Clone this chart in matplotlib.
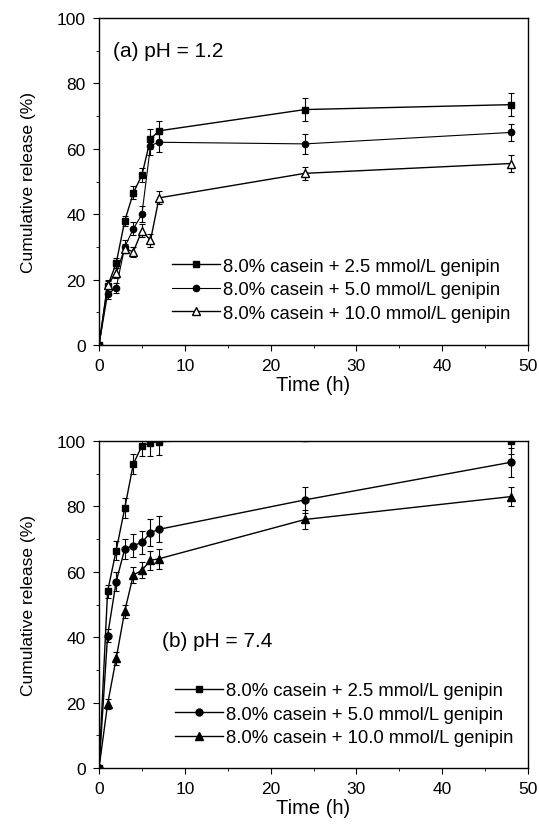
import matplotlib
matplotlib.use("Agg")
from matplotlib import pyplot as plt
from matplotlib.lines import Line2D
from matplotlib.ticker import MultipleLocator

plt.rcParams['font.family'] = ['Liberation Sans', 'DejaVu Sans']

time_h = [0, 1, 2, 3, 4, 5, 6, 7, 24, 48]
labels = ["8.0% casein + 2.5 mmol/L genipin",
          "8.0% casein + 5.0 mmol/L genipin",
          "8.0% casein + 10.0 mmol/L genipin"]

# (a) pH 1.2
a_25 = [0, 18, 25, 38, 46.5, 52, 63, 65.5, 72, 73.5]
a_25_err = [0, 1.5, 1.5, 1.5, 2, 2, 3, 3, 3.5, 3.5]
a_50 = [0, 15.5, 17.5, 30, 35.5, 40, 61, 62, 61.5, 65]
a_50_err = [0, 1.5, 1.5, 2, 2, 2.5, 3, 3, 3, 2.5]
a_100 = [0, 18.5, 22, 29.5, 28.5, 35, 32, 45, 52.5, 55.5]
a_100_err = [0, 1.5, 1.5, 1.5, 1.5, 2, 2, 2, 2, 2.5]

# (b) pH 7.4
b_25 = [0, 54, 66.5, 79.5, 93, 98.5, 99.5, 99.8, 101, 100]
b_25_err = [0, 2, 3, 3, 3, 3, 4, 4, 0.5, 4]
b_50 = [0, 40.5, 57, 67, 68, 69, 72, 73, 82, 93.5]
b_50_err = [0, 2, 3, 3, 3.5, 3.5, 4, 4, 4, 4.5]
b_100 = [0, 19.5, 33.5, 48, 59, 60.5, 63.5, 64, 76, 83]
b_100_err = [0, 1.5, 2, 2, 2.5, 2.5, 3, 3, 3, 3]

fig = plt.figure(figsize=(5.39, 8.29), dpi=100)
ax1 = fig.add_axes([0.1837, 0.5826, 0.7960, 0.3945])
ax2 = fig.add_axes([0.1837, 0.0724, 0.7960, 0.3944])


def draw_panel(ax, series, tag, tag_pos, legend_anchor):
    handles = []
    for y, err, marker, face, ms, lw in series:
        ax.errorbar(time_h, y, yerr=err, color="black", marker=marker, ms=ms,
                    mfc=face, mec="black", lw=lw, elinewidth=0.8, capsize=2.5,
                    capthick=0.8)
        handles.append(Line2D([], [], color="black", marker=marker, ms=ms,
                              mfc=face, mec="black", lw=lw))
    ax.set_xlim(0, 50)
    ax.set_ylim(0, 100)
    ax.xaxis.set_major_locator(MultipleLocator(10))
    ax.xaxis.set_minor_locator(MultipleLocator(5))
    ax.yaxis.set_major_locator(MultipleLocator(20))
    ax.yaxis.set_minor_locator(MultipleLocator(10))
    ax.tick_params(which="both", direction="out", labelsize=12.5)
    ax.tick_params(which="major", length=4.5, pad=5)
    ax.tick_params(which="minor", length=2.5)
    ax.set_xlabel("Time (h)", fontsize=14.5, labelpad=1)
    ax.set_ylabel("Cumulative release (%)", fontsize=12.5, labelpad=15)
    for s in ax.spines.values():
        s.set_linewidth(1.0)
    ax.text(tag_pos[0], tag_pos[1], tag, transform=ax.transAxes, fontsize=15,
            va="center", ha="left")
    ax.legend(handles, labels, loc="lower left", bbox_to_anchor=legend_anchor,
              frameon=False, fontsize=13.3, handlelength=2.6, handletextpad=0.15,
              labelspacing=0.35, borderpad=0.2, borderaxespad=0)


draw_panel(ax1, [(a_25, a_25_err, "s", "black", 4.5, 1.0),
                 (a_50, a_50_err, "o", "black", 4.5, 0.8),
                 (a_100, a_100_err, "^", "white", 6, 1.0)],
           "(a) pH = 1.2", (0.033, 0.9), (0.162, 0.06))
draw_panel(ax2, [(b_25, b_25_err, "s", "black", 5, 1.0),
                 (b_50, b_50_err, "o", "black", 5, 1.0),
                 (b_100, b_100_err, "^", "black", 6, 1.0)],
           "(b) pH = 7.4", (0.147, 0.39), (0.168, 0.055))

fig.savefig("out.png", dpi=100)
